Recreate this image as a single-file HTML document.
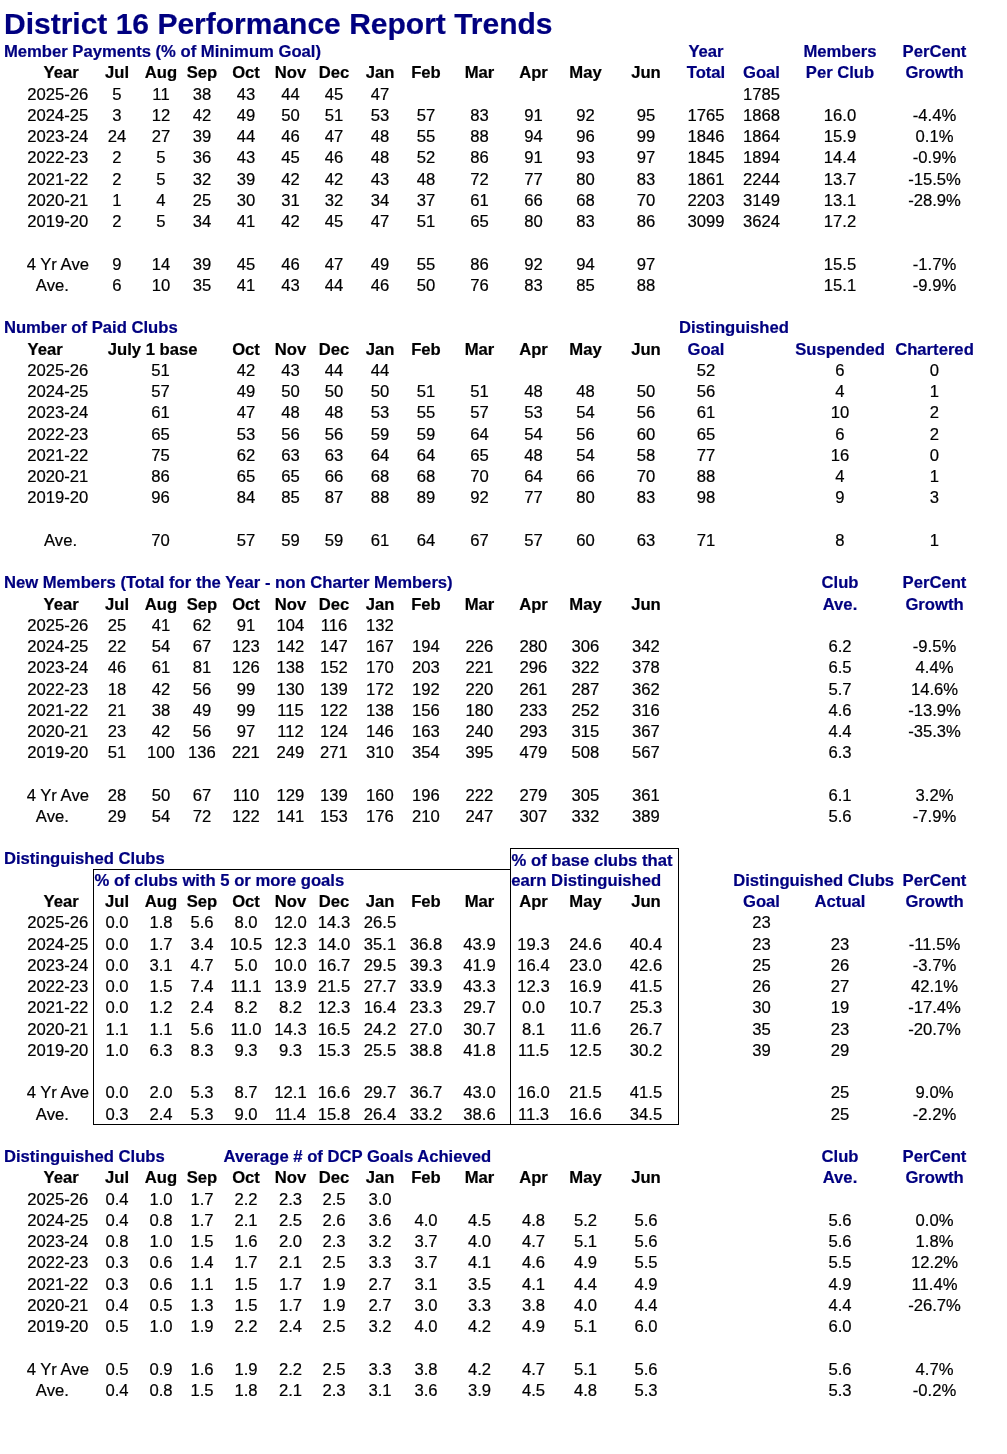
<!DOCTYPE html>
<html><head><meta charset="utf-8"><title>District 16 Performance Report Trends</title>
<style>
html,body{margin:0;padding:0;background:#fff;}
body{will-change:transform;width:1007px;height:1454px;position:relative;overflow:hidden;font-family:"Liberation Sans",sans-serif;font-size:16.65px;color:#000;}
.c,.l{-webkit-text-stroke:0.2px currentColor;position:absolute;white-space:nowrap;line-height:1;}
.c{width:200px;text-align:center;}
.ln{position:absolute;background:#000;}
</style></head><body>
<div class="l" style="font-weight:bold;color:#000080;font-size:30px;left:3.99px;top:9px">District 16 Performance Report Trends</div>
<div class="l" style="font-weight:bold;color:#000080;left:3.89px;top:44px">Member Payments (% of Minimum Goal)</div>
<div class="c" style="font-weight:bold;color:#000080;left:606.00px;top:44px">Year</div>
<div class="c" style="font-weight:bold;color:#000080;left:740.00px;top:44px">Members</div>
<div class="c" style="font-weight:bold;color:#000080;left:834.50px;top:44px">PerCent</div>
<div class="c" style="font-weight:bold;left:-38.90px;top:65px">Year</div>
<div class="c" style="font-weight:bold;left:17.00px;top:65px">Jul</div>
<div class="c" style="font-weight:bold;left:61.00px;top:65px">Aug</div>
<div class="c" style="font-weight:bold;left:102.00px;top:65px">Sep</div>
<div class="c" style="font-weight:bold;left:146.00px;top:65px">Oct</div>
<div class="c" style="font-weight:bold;left:190.50px;top:65px">Nov</div>
<div class="c" style="font-weight:bold;left:234.00px;top:65px">Dec</div>
<div class="c" style="font-weight:bold;left:280.00px;top:65px">Jan</div>
<div class="c" style="font-weight:bold;left:326.00px;top:65px">Feb</div>
<div class="c" style="font-weight:bold;left:379.50px;top:65px">Mar</div>
<div class="c" style="font-weight:bold;left:433.50px;top:65px">Apr</div>
<div class="c" style="font-weight:bold;left:485.50px;top:65px">May</div>
<div class="c" style="font-weight:bold;left:546.00px;top:65px">Jun</div>
<div class="c" style="font-weight:bold;color:#000080;left:606.00px;top:65px">Total</div>
<div class="c" style="font-weight:bold;color:#000080;left:661.50px;top:65px">Goal</div>
<div class="c" style="font-weight:bold;color:#000080;left:740.00px;top:65px">Per Club</div>
<div class="c" style="font-weight:bold;color:#000080;left:834.50px;top:65px">Growth</div>
<div class="c" style="left:-42.20px;top:87px">2025-26</div>
<div class="c" style="left:-42.20px;top:108px">2024-25</div>
<div class="c" style="left:-42.20px;top:129px">2023-24</div>
<div class="c" style="left:-42.20px;top:150px">2022-23</div>
<div class="c" style="left:-42.20px;top:172px">2021-22</div>
<div class="c" style="left:-42.20px;top:193px">2020-21</div>
<div class="c" style="left:-42.20px;top:214px">2019-20</div>
<div class="c" style="left:17.00px;top:87px">5</div>
<div class="c" style="left:61.00px;top:87px">11</div>
<div class="c" style="left:102.00px;top:87px">38</div>
<div class="c" style="left:146.00px;top:87px">43</div>
<div class="c" style="left:190.50px;top:87px">44</div>
<div class="c" style="left:234.00px;top:87px">45</div>
<div class="c" style="left:280.00px;top:87px">47</div>
<div class="c" style="left:661.50px;top:87px">1785</div>
<div class="c" style="left:17.00px;top:108px">3</div>
<div class="c" style="left:61.00px;top:108px">12</div>
<div class="c" style="left:102.00px;top:108px">42</div>
<div class="c" style="left:146.00px;top:108px">49</div>
<div class="c" style="left:190.50px;top:108px">50</div>
<div class="c" style="left:234.00px;top:108px">51</div>
<div class="c" style="left:280.00px;top:108px">53</div>
<div class="c" style="left:326.00px;top:108px">57</div>
<div class="c" style="left:379.50px;top:108px">83</div>
<div class="c" style="left:433.50px;top:108px">91</div>
<div class="c" style="left:485.50px;top:108px">92</div>
<div class="c" style="left:546.00px;top:108px">95</div>
<div class="c" style="left:606.00px;top:108px">1765</div>
<div class="c" style="left:661.50px;top:108px">1868</div>
<div class="c" style="left:740.00px;top:108px">16.0</div>
<div class="c" style="left:834.50px;top:108px">-4.4%</div>
<div class="c" style="left:17.00px;top:129px">24</div>
<div class="c" style="left:61.00px;top:129px">27</div>
<div class="c" style="left:102.00px;top:129px">39</div>
<div class="c" style="left:146.00px;top:129px">44</div>
<div class="c" style="left:190.50px;top:129px">46</div>
<div class="c" style="left:234.00px;top:129px">47</div>
<div class="c" style="left:280.00px;top:129px">48</div>
<div class="c" style="left:326.00px;top:129px">55</div>
<div class="c" style="left:379.50px;top:129px">88</div>
<div class="c" style="left:433.50px;top:129px">94</div>
<div class="c" style="left:485.50px;top:129px">96</div>
<div class="c" style="left:546.00px;top:129px">99</div>
<div class="c" style="left:606.00px;top:129px">1846</div>
<div class="c" style="left:661.50px;top:129px">1864</div>
<div class="c" style="left:740.00px;top:129px">15.9</div>
<div class="c" style="left:834.50px;top:129px">0.1%</div>
<div class="c" style="left:17.00px;top:150px">2</div>
<div class="c" style="left:61.00px;top:150px">5</div>
<div class="c" style="left:102.00px;top:150px">36</div>
<div class="c" style="left:146.00px;top:150px">43</div>
<div class="c" style="left:190.50px;top:150px">45</div>
<div class="c" style="left:234.00px;top:150px">46</div>
<div class="c" style="left:280.00px;top:150px">48</div>
<div class="c" style="left:326.00px;top:150px">52</div>
<div class="c" style="left:379.50px;top:150px">86</div>
<div class="c" style="left:433.50px;top:150px">91</div>
<div class="c" style="left:485.50px;top:150px">93</div>
<div class="c" style="left:546.00px;top:150px">97</div>
<div class="c" style="left:606.00px;top:150px">1845</div>
<div class="c" style="left:661.50px;top:150px">1894</div>
<div class="c" style="left:740.00px;top:150px">14.4</div>
<div class="c" style="left:834.50px;top:150px">-0.9%</div>
<div class="c" style="left:17.00px;top:172px">2</div>
<div class="c" style="left:61.00px;top:172px">5</div>
<div class="c" style="left:102.00px;top:172px">32</div>
<div class="c" style="left:146.00px;top:172px">39</div>
<div class="c" style="left:190.50px;top:172px">42</div>
<div class="c" style="left:234.00px;top:172px">42</div>
<div class="c" style="left:280.00px;top:172px">43</div>
<div class="c" style="left:326.00px;top:172px">48</div>
<div class="c" style="left:379.50px;top:172px">72</div>
<div class="c" style="left:433.50px;top:172px">77</div>
<div class="c" style="left:485.50px;top:172px">80</div>
<div class="c" style="left:546.00px;top:172px">83</div>
<div class="c" style="left:606.00px;top:172px">1861</div>
<div class="c" style="left:661.50px;top:172px">2244</div>
<div class="c" style="left:740.00px;top:172px">13.7</div>
<div class="c" style="left:834.50px;top:172px">-15.5%</div>
<div class="c" style="left:17.00px;top:193px">1</div>
<div class="c" style="left:61.00px;top:193px">4</div>
<div class="c" style="left:102.00px;top:193px">25</div>
<div class="c" style="left:146.00px;top:193px">30</div>
<div class="c" style="left:190.50px;top:193px">31</div>
<div class="c" style="left:234.00px;top:193px">32</div>
<div class="c" style="left:280.00px;top:193px">34</div>
<div class="c" style="left:326.00px;top:193px">37</div>
<div class="c" style="left:379.50px;top:193px">61</div>
<div class="c" style="left:433.50px;top:193px">66</div>
<div class="c" style="left:485.50px;top:193px">68</div>
<div class="c" style="left:546.00px;top:193px">70</div>
<div class="c" style="left:606.00px;top:193px">2203</div>
<div class="c" style="left:661.50px;top:193px">3149</div>
<div class="c" style="left:740.00px;top:193px">13.1</div>
<div class="c" style="left:834.50px;top:193px">-28.9%</div>
<div class="c" style="left:17.00px;top:214px">2</div>
<div class="c" style="left:61.00px;top:214px">5</div>
<div class="c" style="left:102.00px;top:214px">34</div>
<div class="c" style="left:146.00px;top:214px">41</div>
<div class="c" style="left:190.50px;top:214px">42</div>
<div class="c" style="left:234.00px;top:214px">45</div>
<div class="c" style="left:280.00px;top:214px">47</div>
<div class="c" style="left:326.00px;top:214px">51</div>
<div class="c" style="left:379.50px;top:214px">65</div>
<div class="c" style="left:433.50px;top:214px">80</div>
<div class="c" style="left:485.50px;top:214px">83</div>
<div class="c" style="left:546.00px;top:214px">86</div>
<div class="c" style="left:606.00px;top:214px">3099</div>
<div class="c" style="left:661.50px;top:214px">3624</div>
<div class="c" style="left:740.00px;top:214px">17.2</div>
<div class="c" style="left:-42.20px;top:257px">4 Yr Ave</div>
<div class="c" style="left:17.00px;top:257px">9</div>
<div class="c" style="left:61.00px;top:257px">14</div>
<div class="c" style="left:102.00px;top:257px">39</div>
<div class="c" style="left:146.00px;top:257px">45</div>
<div class="c" style="left:190.50px;top:257px">46</div>
<div class="c" style="left:234.00px;top:257px">47</div>
<div class="c" style="left:280.00px;top:257px">49</div>
<div class="c" style="left:326.00px;top:257px">55</div>
<div class="c" style="left:379.50px;top:257px">86</div>
<div class="c" style="left:433.50px;top:257px">92</div>
<div class="c" style="left:485.50px;top:257px">94</div>
<div class="c" style="left:546.00px;top:257px">97</div>
<div class="c" style="left:740.00px;top:257px">15.5</div>
<div class="c" style="left:834.50px;top:257px">-1.7%</div>
<div class="c" style="left:17.00px;top:278px">6</div>
<div class="c" style="left:61.00px;top:278px">10</div>
<div class="c" style="left:102.00px;top:278px">35</div>
<div class="c" style="left:146.00px;top:278px">41</div>
<div class="c" style="left:190.50px;top:278px">43</div>
<div class="c" style="left:234.00px;top:278px">44</div>
<div class="c" style="left:280.00px;top:278px">46</div>
<div class="c" style="left:326.00px;top:278px">50</div>
<div class="c" style="left:379.50px;top:278px">76</div>
<div class="c" style="left:433.50px;top:278px">83</div>
<div class="c" style="left:485.50px;top:278px">85</div>
<div class="c" style="left:546.00px;top:278px">88</div>
<div class="c" style="left:740.00px;top:278px">15.1</div>
<div class="c" style="left:834.50px;top:278px">-9.9%</div>
<div class="l" style="left:35.87px;top:278px">Ave.</div>
<div class="l" style="font-weight:bold;color:#000080;left:3.89px;top:320px">Number of Paid Clubs</div>
<div class="l" style="font-weight:bold;color:#000080;left:678.89px;top:320px">Distinguished</div>
<div class="l" style="font-weight:bold;left:27.52px;top:342px">Year</div>
<div class="c" style="font-weight:bold;left:52.70px;top:342px">July 1 base</div>
<div class="c" style="font-weight:bold;left:146.00px;top:342px">Oct</div>
<div class="c" style="font-weight:bold;left:190.50px;top:342px">Nov</div>
<div class="c" style="font-weight:bold;left:234.00px;top:342px">Dec</div>
<div class="c" style="font-weight:bold;left:280.00px;top:342px">Jan</div>
<div class="c" style="font-weight:bold;left:326.00px;top:342px">Feb</div>
<div class="c" style="font-weight:bold;left:379.50px;top:342px">Mar</div>
<div class="c" style="font-weight:bold;left:433.50px;top:342px">Apr</div>
<div class="c" style="font-weight:bold;left:485.50px;top:342px">May</div>
<div class="c" style="font-weight:bold;left:546.00px;top:342px">Jun</div>
<div class="c" style="font-weight:bold;color:#000080;left:606.00px;top:342px">Goal</div>
<div class="c" style="font-weight:bold;color:#000080;left:740.00px;top:342px">Suspended</div>
<div class="c" style="font-weight:bold;color:#000080;left:834.50px;top:342px">Chartered</div>
<div class="c" style="left:-42.20px;top:363px">2025-26</div>
<div class="c" style="left:-42.20px;top:384px">2024-25</div>
<div class="c" style="left:-42.20px;top:405px">2023-24</div>
<div class="c" style="left:-42.20px;top:427px">2022-23</div>
<div class="c" style="left:-42.20px;top:448px">2021-22</div>
<div class="c" style="left:-42.20px;top:469px">2020-21</div>
<div class="c" style="left:-42.20px;top:490px">2019-20</div>
<div class="c" style="left:60.50px;top:363px">51</div>
<div class="c" style="left:146.00px;top:363px">42</div>
<div class="c" style="left:190.50px;top:363px">43</div>
<div class="c" style="left:234.00px;top:363px">44</div>
<div class="c" style="left:280.00px;top:363px">44</div>
<div class="c" style="left:606.00px;top:363px">52</div>
<div class="c" style="left:740.00px;top:363px">6</div>
<div class="c" style="left:834.50px;top:363px">0</div>
<div class="c" style="left:60.50px;top:384px">57</div>
<div class="c" style="left:146.00px;top:384px">49</div>
<div class="c" style="left:190.50px;top:384px">50</div>
<div class="c" style="left:234.00px;top:384px">50</div>
<div class="c" style="left:280.00px;top:384px">50</div>
<div class="c" style="left:326.00px;top:384px">51</div>
<div class="c" style="left:379.50px;top:384px">51</div>
<div class="c" style="left:433.50px;top:384px">48</div>
<div class="c" style="left:485.50px;top:384px">48</div>
<div class="c" style="left:546.00px;top:384px">50</div>
<div class="c" style="left:606.00px;top:384px">56</div>
<div class="c" style="left:740.00px;top:384px">4</div>
<div class="c" style="left:834.50px;top:384px">1</div>
<div class="c" style="left:60.50px;top:405px">61</div>
<div class="c" style="left:146.00px;top:405px">47</div>
<div class="c" style="left:190.50px;top:405px">48</div>
<div class="c" style="left:234.00px;top:405px">48</div>
<div class="c" style="left:280.00px;top:405px">53</div>
<div class="c" style="left:326.00px;top:405px">55</div>
<div class="c" style="left:379.50px;top:405px">57</div>
<div class="c" style="left:433.50px;top:405px">53</div>
<div class="c" style="left:485.50px;top:405px">54</div>
<div class="c" style="left:546.00px;top:405px">56</div>
<div class="c" style="left:606.00px;top:405px">61</div>
<div class="c" style="left:740.00px;top:405px">10</div>
<div class="c" style="left:834.50px;top:405px">2</div>
<div class="c" style="left:60.50px;top:427px">65</div>
<div class="c" style="left:146.00px;top:427px">53</div>
<div class="c" style="left:190.50px;top:427px">56</div>
<div class="c" style="left:234.00px;top:427px">56</div>
<div class="c" style="left:280.00px;top:427px">59</div>
<div class="c" style="left:326.00px;top:427px">59</div>
<div class="c" style="left:379.50px;top:427px">64</div>
<div class="c" style="left:433.50px;top:427px">54</div>
<div class="c" style="left:485.50px;top:427px">56</div>
<div class="c" style="left:546.00px;top:427px">60</div>
<div class="c" style="left:606.00px;top:427px">65</div>
<div class="c" style="left:740.00px;top:427px">6</div>
<div class="c" style="left:834.50px;top:427px">2</div>
<div class="c" style="left:60.50px;top:448px">75</div>
<div class="c" style="left:146.00px;top:448px">62</div>
<div class="c" style="left:190.50px;top:448px">63</div>
<div class="c" style="left:234.00px;top:448px">63</div>
<div class="c" style="left:280.00px;top:448px">64</div>
<div class="c" style="left:326.00px;top:448px">64</div>
<div class="c" style="left:379.50px;top:448px">65</div>
<div class="c" style="left:433.50px;top:448px">48</div>
<div class="c" style="left:485.50px;top:448px">54</div>
<div class="c" style="left:546.00px;top:448px">58</div>
<div class="c" style="left:606.00px;top:448px">77</div>
<div class="c" style="left:740.00px;top:448px">16</div>
<div class="c" style="left:834.50px;top:448px">0</div>
<div class="c" style="left:60.50px;top:469px">86</div>
<div class="c" style="left:146.00px;top:469px">65</div>
<div class="c" style="left:190.50px;top:469px">65</div>
<div class="c" style="left:234.00px;top:469px">66</div>
<div class="c" style="left:280.00px;top:469px">68</div>
<div class="c" style="left:326.00px;top:469px">68</div>
<div class="c" style="left:379.50px;top:469px">70</div>
<div class="c" style="left:433.50px;top:469px">64</div>
<div class="c" style="left:485.50px;top:469px">66</div>
<div class="c" style="left:546.00px;top:469px">70</div>
<div class="c" style="left:606.00px;top:469px">88</div>
<div class="c" style="left:740.00px;top:469px">4</div>
<div class="c" style="left:834.50px;top:469px">1</div>
<div class="c" style="left:60.50px;top:490px">96</div>
<div class="c" style="left:146.00px;top:490px">84</div>
<div class="c" style="left:190.50px;top:490px">85</div>
<div class="c" style="left:234.00px;top:490px">87</div>
<div class="c" style="left:280.00px;top:490px">88</div>
<div class="c" style="left:326.00px;top:490px">89</div>
<div class="c" style="left:379.50px;top:490px">92</div>
<div class="c" style="left:433.50px;top:490px">77</div>
<div class="c" style="left:485.50px;top:490px">80</div>
<div class="c" style="left:546.00px;top:490px">83</div>
<div class="c" style="left:606.00px;top:490px">98</div>
<div class="c" style="left:740.00px;top:490px">9</div>
<div class="c" style="left:834.50px;top:490px">3</div>
<div class="l" style="left:44.07px;top:533px">Ave.</div>
<div class="c" style="left:60.50px;top:533px">70</div>
<div class="c" style="left:146.00px;top:533px">57</div>
<div class="c" style="left:190.50px;top:533px">59</div>
<div class="c" style="left:234.00px;top:533px">59</div>
<div class="c" style="left:280.00px;top:533px">61</div>
<div class="c" style="left:326.00px;top:533px">64</div>
<div class="c" style="left:379.50px;top:533px">67</div>
<div class="c" style="left:433.50px;top:533px">57</div>
<div class="c" style="left:485.50px;top:533px">60</div>
<div class="c" style="left:546.00px;top:533px">63</div>
<div class="c" style="left:606.00px;top:533px">71</div>
<div class="c" style="left:740.00px;top:533px">8</div>
<div class="c" style="left:834.50px;top:533px">1</div>
<div class="l" style="font-weight:bold;color:#000080;left:3.89px;top:575px">New Members (Total for the Year - non Charter Members)</div>
<div class="c" style="font-weight:bold;color:#000080;left:740.00px;top:575px">Club</div>
<div class="c" style="font-weight:bold;color:#000080;left:834.50px;top:575px">PerCent</div>
<div class="c" style="font-weight:bold;left:-38.90px;top:597px">Year</div>
<div class="c" style="font-weight:bold;left:17.00px;top:597px">Jul</div>
<div class="c" style="font-weight:bold;left:61.00px;top:597px">Aug</div>
<div class="c" style="font-weight:bold;left:102.00px;top:597px">Sep</div>
<div class="c" style="font-weight:bold;left:146.00px;top:597px">Oct</div>
<div class="c" style="font-weight:bold;left:190.50px;top:597px">Nov</div>
<div class="c" style="font-weight:bold;left:234.00px;top:597px">Dec</div>
<div class="c" style="font-weight:bold;left:280.00px;top:597px">Jan</div>
<div class="c" style="font-weight:bold;left:326.00px;top:597px">Feb</div>
<div class="c" style="font-weight:bold;left:379.50px;top:597px">Mar</div>
<div class="c" style="font-weight:bold;left:433.50px;top:597px">Apr</div>
<div class="c" style="font-weight:bold;left:485.50px;top:597px">May</div>
<div class="c" style="font-weight:bold;left:546.00px;top:597px">Jun</div>
<div class="c" style="font-weight:bold;color:#000080;left:740.00px;top:597px">Ave.</div>
<div class="c" style="font-weight:bold;color:#000080;left:834.50px;top:597px">Growth</div>
<div class="c" style="left:-42.20px;top:618px">2025-26</div>
<div class="c" style="left:-42.20px;top:639px">2024-25</div>
<div class="c" style="left:-42.20px;top:660px">2023-24</div>
<div class="c" style="left:-42.20px;top:682px">2022-23</div>
<div class="c" style="left:-42.20px;top:703px">2021-22</div>
<div class="c" style="left:-42.20px;top:724px">2020-21</div>
<div class="c" style="left:-42.20px;top:745px">2019-20</div>
<div class="c" style="left:17.00px;top:618px">25</div>
<div class="c" style="left:61.00px;top:618px">41</div>
<div class="c" style="left:102.00px;top:618px">62</div>
<div class="c" style="left:146.00px;top:618px">91</div>
<div class="c" style="left:190.50px;top:618px">104</div>
<div class="c" style="left:234.00px;top:618px">116</div>
<div class="c" style="left:280.00px;top:618px">132</div>
<div class="c" style="left:17.00px;top:639px">22</div>
<div class="c" style="left:61.00px;top:639px">54</div>
<div class="c" style="left:102.00px;top:639px">67</div>
<div class="c" style="left:146.00px;top:639px">123</div>
<div class="c" style="left:190.50px;top:639px">142</div>
<div class="c" style="left:234.00px;top:639px">147</div>
<div class="c" style="left:280.00px;top:639px">167</div>
<div class="c" style="left:326.00px;top:639px">194</div>
<div class="c" style="left:379.50px;top:639px">226</div>
<div class="c" style="left:433.50px;top:639px">280</div>
<div class="c" style="left:485.50px;top:639px">306</div>
<div class="c" style="left:546.00px;top:639px">342</div>
<div class="c" style="left:740.00px;top:639px">6.2</div>
<div class="c" style="left:834.50px;top:639px">-9.5%</div>
<div class="c" style="left:17.00px;top:660px">46</div>
<div class="c" style="left:61.00px;top:660px">61</div>
<div class="c" style="left:102.00px;top:660px">81</div>
<div class="c" style="left:146.00px;top:660px">126</div>
<div class="c" style="left:190.50px;top:660px">138</div>
<div class="c" style="left:234.00px;top:660px">152</div>
<div class="c" style="left:280.00px;top:660px">170</div>
<div class="c" style="left:326.00px;top:660px">203</div>
<div class="c" style="left:379.50px;top:660px">221</div>
<div class="c" style="left:433.50px;top:660px">296</div>
<div class="c" style="left:485.50px;top:660px">322</div>
<div class="c" style="left:546.00px;top:660px">378</div>
<div class="c" style="left:740.00px;top:660px">6.5</div>
<div class="c" style="left:834.50px;top:660px">4.4%</div>
<div class="c" style="left:17.00px;top:682px">18</div>
<div class="c" style="left:61.00px;top:682px">42</div>
<div class="c" style="left:102.00px;top:682px">56</div>
<div class="c" style="left:146.00px;top:682px">99</div>
<div class="c" style="left:190.50px;top:682px">130</div>
<div class="c" style="left:234.00px;top:682px">139</div>
<div class="c" style="left:280.00px;top:682px">172</div>
<div class="c" style="left:326.00px;top:682px">192</div>
<div class="c" style="left:379.50px;top:682px">220</div>
<div class="c" style="left:433.50px;top:682px">261</div>
<div class="c" style="left:485.50px;top:682px">287</div>
<div class="c" style="left:546.00px;top:682px">362</div>
<div class="c" style="left:740.00px;top:682px">5.7</div>
<div class="c" style="left:834.50px;top:682px">14.6%</div>
<div class="c" style="left:17.00px;top:703px">21</div>
<div class="c" style="left:61.00px;top:703px">38</div>
<div class="c" style="left:102.00px;top:703px">49</div>
<div class="c" style="left:146.00px;top:703px">99</div>
<div class="c" style="left:190.50px;top:703px">115</div>
<div class="c" style="left:234.00px;top:703px">122</div>
<div class="c" style="left:280.00px;top:703px">138</div>
<div class="c" style="left:326.00px;top:703px">156</div>
<div class="c" style="left:379.50px;top:703px">180</div>
<div class="c" style="left:433.50px;top:703px">233</div>
<div class="c" style="left:485.50px;top:703px">252</div>
<div class="c" style="left:546.00px;top:703px">316</div>
<div class="c" style="left:740.00px;top:703px">4.6</div>
<div class="c" style="left:834.50px;top:703px">-13.9%</div>
<div class="c" style="left:17.00px;top:724px">23</div>
<div class="c" style="left:61.00px;top:724px">42</div>
<div class="c" style="left:102.00px;top:724px">56</div>
<div class="c" style="left:146.00px;top:724px">97</div>
<div class="c" style="left:190.50px;top:724px">112</div>
<div class="c" style="left:234.00px;top:724px">124</div>
<div class="c" style="left:280.00px;top:724px">146</div>
<div class="c" style="left:326.00px;top:724px">163</div>
<div class="c" style="left:379.50px;top:724px">240</div>
<div class="c" style="left:433.50px;top:724px">293</div>
<div class="c" style="left:485.50px;top:724px">315</div>
<div class="c" style="left:546.00px;top:724px">367</div>
<div class="c" style="left:740.00px;top:724px">4.4</div>
<div class="c" style="left:834.50px;top:724px">-35.3%</div>
<div class="c" style="left:17.00px;top:745px">51</div>
<div class="c" style="left:61.00px;top:745px">100</div>
<div class="c" style="left:102.00px;top:745px">136</div>
<div class="c" style="left:146.00px;top:745px">221</div>
<div class="c" style="left:190.50px;top:745px">249</div>
<div class="c" style="left:234.00px;top:745px">271</div>
<div class="c" style="left:280.00px;top:745px">310</div>
<div class="c" style="left:326.00px;top:745px">354</div>
<div class="c" style="left:379.50px;top:745px">395</div>
<div class="c" style="left:433.50px;top:745px">479</div>
<div class="c" style="left:485.50px;top:745px">508</div>
<div class="c" style="left:546.00px;top:745px">567</div>
<div class="c" style="left:740.00px;top:745px">6.3</div>
<div class="c" style="left:-42.20px;top:788px">4 Yr Ave</div>
<div class="l" style="left:35.87px;top:809px">Ave.</div>
<div class="c" style="left:17.00px;top:788px">28</div>
<div class="c" style="left:61.00px;top:788px">50</div>
<div class="c" style="left:102.00px;top:788px">67</div>
<div class="c" style="left:146.00px;top:788px">110</div>
<div class="c" style="left:190.50px;top:788px">129</div>
<div class="c" style="left:234.00px;top:788px">139</div>
<div class="c" style="left:280.00px;top:788px">160</div>
<div class="c" style="left:326.00px;top:788px">196</div>
<div class="c" style="left:379.50px;top:788px">222</div>
<div class="c" style="left:433.50px;top:788px">279</div>
<div class="c" style="left:485.50px;top:788px">305</div>
<div class="c" style="left:546.00px;top:788px">361</div>
<div class="c" style="left:740.00px;top:788px">6.1</div>
<div class="c" style="left:834.50px;top:788px">3.2%</div>
<div class="c" style="left:17.00px;top:809px">29</div>
<div class="c" style="left:61.00px;top:809px">54</div>
<div class="c" style="left:102.00px;top:809px">72</div>
<div class="c" style="left:146.00px;top:809px">122</div>
<div class="c" style="left:190.50px;top:809px">141</div>
<div class="c" style="left:234.00px;top:809px">153</div>
<div class="c" style="left:280.00px;top:809px">176</div>
<div class="c" style="left:326.00px;top:809px">210</div>
<div class="c" style="left:379.50px;top:809px">247</div>
<div class="c" style="left:433.50px;top:809px">307</div>
<div class="c" style="left:485.50px;top:809px">332</div>
<div class="c" style="left:546.00px;top:809px">389</div>
<div class="c" style="left:740.00px;top:809px">5.6</div>
<div class="c" style="left:834.50px;top:809px">-7.9%</div>
<div class="l" style="font-weight:bold;color:#000080;left:3.89px;top:851px">Distinguished Clubs</div>
<div class="l" style="font-weight:bold;color:#000080;left:511.59px;top:853px">% of base clubs that</div>
<div class="l" style="font-weight:bold;color:#000080;left:94.59px;top:873px">% of clubs with 5 or more goals</div>
<div class="l" style="font-weight:bold;color:#000080;left:511.35px;top:873px">earn Distinguished</div>
<div class="l" style="font-weight:bold;color:#000080;left:733.19px;top:873px">Distinguished Clubs</div>
<div class="c" style="font-weight:bold;color:#000080;left:834.50px;top:873px">PerCent</div>
<div class="c" style="font-weight:bold;left:-38.90px;top:894px">Year</div>
<div class="c" style="font-weight:bold;left:17.00px;top:894px">Jul</div>
<div class="c" style="font-weight:bold;left:61.00px;top:894px">Aug</div>
<div class="c" style="font-weight:bold;left:102.00px;top:894px">Sep</div>
<div class="c" style="font-weight:bold;left:146.00px;top:894px">Oct</div>
<div class="c" style="font-weight:bold;left:190.50px;top:894px">Nov</div>
<div class="c" style="font-weight:bold;left:234.00px;top:894px">Dec</div>
<div class="c" style="font-weight:bold;left:280.00px;top:894px">Jan</div>
<div class="c" style="font-weight:bold;left:326.00px;top:894px">Feb</div>
<div class="c" style="font-weight:bold;left:379.50px;top:894px">Mar</div>
<div class="c" style="font-weight:bold;left:433.50px;top:894px">Apr</div>
<div class="c" style="font-weight:bold;left:485.50px;top:894px">May</div>
<div class="c" style="font-weight:bold;left:546.00px;top:894px">Jun</div>
<div class="c" style="font-weight:bold;color:#000080;left:661.50px;top:894px">Goal</div>
<div class="c" style="font-weight:bold;color:#000080;left:740.00px;top:894px">Actual</div>
<div class="c" style="font-weight:bold;color:#000080;left:834.50px;top:894px">Growth</div>
<div class="c" style="left:-42.20px;top:915px">2025-26</div>
<div class="c" style="left:-42.20px;top:937px">2024-25</div>
<div class="c" style="left:-42.20px;top:958px">2023-24</div>
<div class="c" style="left:-42.20px;top:979px">2022-23</div>
<div class="c" style="left:-42.20px;top:1000px">2021-22</div>
<div class="c" style="left:-42.20px;top:1022px">2020-21</div>
<div class="c" style="left:-42.20px;top:1043px">2019-20</div>
<div class="c" style="left:17.00px;top:915px">0.0</div>
<div class="c" style="left:61.00px;top:915px">1.8</div>
<div class="c" style="left:102.00px;top:915px">5.6</div>
<div class="c" style="left:146.00px;top:915px">8.0</div>
<div class="c" style="left:190.50px;top:915px">12.0</div>
<div class="c" style="left:234.00px;top:915px">14.3</div>
<div class="c" style="left:280.00px;top:915px">26.5</div>
<div class="c" style="left:661.50px;top:915px">23</div>
<div class="c" style="left:17.00px;top:937px">0.0</div>
<div class="c" style="left:61.00px;top:937px">1.7</div>
<div class="c" style="left:102.00px;top:937px">3.4</div>
<div class="c" style="left:146.00px;top:937px">10.5</div>
<div class="c" style="left:190.50px;top:937px">12.3</div>
<div class="c" style="left:234.00px;top:937px">14.0</div>
<div class="c" style="left:280.00px;top:937px">35.1</div>
<div class="c" style="left:326.00px;top:937px">36.8</div>
<div class="c" style="left:379.50px;top:937px">43.9</div>
<div class="c" style="left:433.50px;top:937px">19.3</div>
<div class="c" style="left:485.50px;top:937px">24.6</div>
<div class="c" style="left:546.00px;top:937px">40.4</div>
<div class="c" style="left:661.50px;top:937px">23</div>
<div class="c" style="left:740.00px;top:937px">23</div>
<div class="c" style="left:834.50px;top:937px">-11.5%</div>
<div class="c" style="left:17.00px;top:958px">0.0</div>
<div class="c" style="left:61.00px;top:958px">3.1</div>
<div class="c" style="left:102.00px;top:958px">4.7</div>
<div class="c" style="left:146.00px;top:958px">5.0</div>
<div class="c" style="left:190.50px;top:958px">10.0</div>
<div class="c" style="left:234.00px;top:958px">16.7</div>
<div class="c" style="left:280.00px;top:958px">29.5</div>
<div class="c" style="left:326.00px;top:958px">39.3</div>
<div class="c" style="left:379.50px;top:958px">41.9</div>
<div class="c" style="left:433.50px;top:958px">16.4</div>
<div class="c" style="left:485.50px;top:958px">23.0</div>
<div class="c" style="left:546.00px;top:958px">42.6</div>
<div class="c" style="left:661.50px;top:958px">25</div>
<div class="c" style="left:740.00px;top:958px">26</div>
<div class="c" style="left:834.50px;top:958px">-3.7%</div>
<div class="c" style="left:17.00px;top:979px">0.0</div>
<div class="c" style="left:61.00px;top:979px">1.5</div>
<div class="c" style="left:102.00px;top:979px">7.4</div>
<div class="c" style="left:146.00px;top:979px">11.1</div>
<div class="c" style="left:190.50px;top:979px">13.9</div>
<div class="c" style="left:234.00px;top:979px">21.5</div>
<div class="c" style="left:280.00px;top:979px">27.7</div>
<div class="c" style="left:326.00px;top:979px">33.9</div>
<div class="c" style="left:379.50px;top:979px">43.3</div>
<div class="c" style="left:433.50px;top:979px">12.3</div>
<div class="c" style="left:485.50px;top:979px">16.9</div>
<div class="c" style="left:546.00px;top:979px">41.5</div>
<div class="c" style="left:661.50px;top:979px">26</div>
<div class="c" style="left:740.00px;top:979px">27</div>
<div class="c" style="left:834.50px;top:979px">42.1%</div>
<div class="c" style="left:17.00px;top:1000px">0.0</div>
<div class="c" style="left:61.00px;top:1000px">1.2</div>
<div class="c" style="left:102.00px;top:1000px">2.4</div>
<div class="c" style="left:146.00px;top:1000px">8.2</div>
<div class="c" style="left:190.50px;top:1000px">8.2</div>
<div class="c" style="left:234.00px;top:1000px">12.3</div>
<div class="c" style="left:280.00px;top:1000px">16.4</div>
<div class="c" style="left:326.00px;top:1000px">23.3</div>
<div class="c" style="left:379.50px;top:1000px">29.7</div>
<div class="c" style="left:433.50px;top:1000px">0.0</div>
<div class="c" style="left:485.50px;top:1000px">10.7</div>
<div class="c" style="left:546.00px;top:1000px">25.3</div>
<div class="c" style="left:661.50px;top:1000px">30</div>
<div class="c" style="left:740.00px;top:1000px">19</div>
<div class="c" style="left:834.50px;top:1000px">-17.4%</div>
<div class="c" style="left:17.00px;top:1022px">1.1</div>
<div class="c" style="left:61.00px;top:1022px">1.1</div>
<div class="c" style="left:102.00px;top:1022px">5.6</div>
<div class="c" style="left:146.00px;top:1022px">11.0</div>
<div class="c" style="left:190.50px;top:1022px">14.3</div>
<div class="c" style="left:234.00px;top:1022px">16.5</div>
<div class="c" style="left:280.00px;top:1022px">24.2</div>
<div class="c" style="left:326.00px;top:1022px">27.0</div>
<div class="c" style="left:379.50px;top:1022px">30.7</div>
<div class="c" style="left:433.50px;top:1022px">8.1</div>
<div class="c" style="left:485.50px;top:1022px">11.6</div>
<div class="c" style="left:546.00px;top:1022px">26.7</div>
<div class="c" style="left:661.50px;top:1022px">35</div>
<div class="c" style="left:740.00px;top:1022px">23</div>
<div class="c" style="left:834.50px;top:1022px">-20.7%</div>
<div class="c" style="left:17.00px;top:1043px">1.0</div>
<div class="c" style="left:61.00px;top:1043px">6.3</div>
<div class="c" style="left:102.00px;top:1043px">8.3</div>
<div class="c" style="left:146.00px;top:1043px">9.3</div>
<div class="c" style="left:190.50px;top:1043px">9.3</div>
<div class="c" style="left:234.00px;top:1043px">15.3</div>
<div class="c" style="left:280.00px;top:1043px">25.5</div>
<div class="c" style="left:326.00px;top:1043px">38.8</div>
<div class="c" style="left:379.50px;top:1043px">41.8</div>
<div class="c" style="left:433.50px;top:1043px">11.5</div>
<div class="c" style="left:485.50px;top:1043px">12.5</div>
<div class="c" style="left:546.00px;top:1043px">30.2</div>
<div class="c" style="left:661.50px;top:1043px">39</div>
<div class="c" style="left:740.00px;top:1043px">29</div>
<div class="c" style="left:-42.20px;top:1085px">4 Yr Ave</div>
<div class="l" style="left:35.87px;top:1107px">Ave.</div>
<div class="c" style="left:17.00px;top:1085px">0.0</div>
<div class="c" style="left:61.00px;top:1085px">2.0</div>
<div class="c" style="left:102.00px;top:1085px">5.3</div>
<div class="c" style="left:146.00px;top:1085px">8.7</div>
<div class="c" style="left:190.50px;top:1085px">12.1</div>
<div class="c" style="left:234.00px;top:1085px">16.6</div>
<div class="c" style="left:280.00px;top:1085px">29.7</div>
<div class="c" style="left:326.00px;top:1085px">36.7</div>
<div class="c" style="left:379.50px;top:1085px">43.0</div>
<div class="c" style="left:433.50px;top:1085px">16.0</div>
<div class="c" style="left:485.50px;top:1085px">21.5</div>
<div class="c" style="left:546.00px;top:1085px">41.5</div>
<div class="c" style="left:740.00px;top:1085px">25</div>
<div class="c" style="left:834.50px;top:1085px">9.0%</div>
<div class="c" style="left:17.00px;top:1107px">0.3</div>
<div class="c" style="left:61.00px;top:1107px">2.4</div>
<div class="c" style="left:102.00px;top:1107px">5.3</div>
<div class="c" style="left:146.00px;top:1107px">9.0</div>
<div class="c" style="left:190.50px;top:1107px">11.4</div>
<div class="c" style="left:234.00px;top:1107px">15.8</div>
<div class="c" style="left:280.00px;top:1107px">26.4</div>
<div class="c" style="left:326.00px;top:1107px">33.2</div>
<div class="c" style="left:379.50px;top:1107px">38.6</div>
<div class="c" style="left:433.50px;top:1107px">11.3</div>
<div class="c" style="left:485.50px;top:1107px">16.6</div>
<div class="c" style="left:546.00px;top:1107px">34.5</div>
<div class="c" style="left:740.00px;top:1107px">25</div>
<div class="c" style="left:834.50px;top:1107px">-2.2%</div>
<div class="l" style="font-weight:bold;color:#000080;left:3.89px;top:1149px">Distinguished Clubs</div>
<div class="l" style="font-weight:bold;color:#000080;left:223.59px;top:1149px">Average # of DCP Goals Achieved</div>
<div class="c" style="font-weight:bold;color:#000080;left:740.00px;top:1149px">Club</div>
<div class="c" style="font-weight:bold;color:#000080;left:834.50px;top:1149px">PerCent</div>
<div class="c" style="font-weight:bold;left:-38.90px;top:1170px">Year</div>
<div class="c" style="font-weight:bold;left:17.00px;top:1170px">Jul</div>
<div class="c" style="font-weight:bold;left:61.00px;top:1170px">Aug</div>
<div class="c" style="font-weight:bold;left:102.00px;top:1170px">Sep</div>
<div class="c" style="font-weight:bold;left:146.00px;top:1170px">Oct</div>
<div class="c" style="font-weight:bold;left:190.50px;top:1170px">Nov</div>
<div class="c" style="font-weight:bold;left:234.00px;top:1170px">Dec</div>
<div class="c" style="font-weight:bold;left:280.00px;top:1170px">Jan</div>
<div class="c" style="font-weight:bold;left:326.00px;top:1170px">Feb</div>
<div class="c" style="font-weight:bold;left:379.50px;top:1170px">Mar</div>
<div class="c" style="font-weight:bold;left:433.50px;top:1170px">Apr</div>
<div class="c" style="font-weight:bold;left:485.50px;top:1170px">May</div>
<div class="c" style="font-weight:bold;left:546.00px;top:1170px">Jun</div>
<div class="c" style="font-weight:bold;color:#000080;left:740.00px;top:1170px">Ave.</div>
<div class="c" style="font-weight:bold;color:#000080;left:834.50px;top:1170px">Growth</div>
<div class="c" style="left:-42.20px;top:1192px">2025-26</div>
<div class="c" style="left:-42.20px;top:1213px">2024-25</div>
<div class="c" style="left:-42.20px;top:1234px">2023-24</div>
<div class="c" style="left:-42.20px;top:1255px">2022-23</div>
<div class="c" style="left:-42.20px;top:1277px">2021-22</div>
<div class="c" style="left:-42.20px;top:1298px">2020-21</div>
<div class="c" style="left:-42.20px;top:1319px">2019-20</div>
<div class="c" style="left:17.00px;top:1192px">0.4</div>
<div class="c" style="left:61.00px;top:1192px">1.0</div>
<div class="c" style="left:102.00px;top:1192px">1.7</div>
<div class="c" style="left:146.00px;top:1192px">2.2</div>
<div class="c" style="left:190.50px;top:1192px">2.3</div>
<div class="c" style="left:234.00px;top:1192px">2.5</div>
<div class="c" style="left:280.00px;top:1192px">3.0</div>
<div class="c" style="left:17.00px;top:1213px">0.4</div>
<div class="c" style="left:61.00px;top:1213px">0.8</div>
<div class="c" style="left:102.00px;top:1213px">1.7</div>
<div class="c" style="left:146.00px;top:1213px">2.1</div>
<div class="c" style="left:190.50px;top:1213px">2.5</div>
<div class="c" style="left:234.00px;top:1213px">2.6</div>
<div class="c" style="left:280.00px;top:1213px">3.6</div>
<div class="c" style="left:326.00px;top:1213px">4.0</div>
<div class="c" style="left:379.50px;top:1213px">4.5</div>
<div class="c" style="left:433.50px;top:1213px">4.8</div>
<div class="c" style="left:485.50px;top:1213px">5.2</div>
<div class="c" style="left:546.00px;top:1213px">5.6</div>
<div class="c" style="left:740.00px;top:1213px">5.6</div>
<div class="c" style="left:834.50px;top:1213px">0.0%</div>
<div class="c" style="left:17.00px;top:1234px">0.8</div>
<div class="c" style="left:61.00px;top:1234px">1.0</div>
<div class="c" style="left:102.00px;top:1234px">1.5</div>
<div class="c" style="left:146.00px;top:1234px">1.6</div>
<div class="c" style="left:190.50px;top:1234px">2.0</div>
<div class="c" style="left:234.00px;top:1234px">2.3</div>
<div class="c" style="left:280.00px;top:1234px">3.2</div>
<div class="c" style="left:326.00px;top:1234px">3.7</div>
<div class="c" style="left:379.50px;top:1234px">4.0</div>
<div class="c" style="left:433.50px;top:1234px">4.7</div>
<div class="c" style="left:485.50px;top:1234px">5.1</div>
<div class="c" style="left:546.00px;top:1234px">5.6</div>
<div class="c" style="left:740.00px;top:1234px">5.6</div>
<div class="c" style="left:834.50px;top:1234px">1.8%</div>
<div class="c" style="left:17.00px;top:1255px">0.3</div>
<div class="c" style="left:61.00px;top:1255px">0.6</div>
<div class="c" style="left:102.00px;top:1255px">1.4</div>
<div class="c" style="left:146.00px;top:1255px">1.7</div>
<div class="c" style="left:190.50px;top:1255px">2.1</div>
<div class="c" style="left:234.00px;top:1255px">2.5</div>
<div class="c" style="left:280.00px;top:1255px">3.3</div>
<div class="c" style="left:326.00px;top:1255px">3.7</div>
<div class="c" style="left:379.50px;top:1255px">4.1</div>
<div class="c" style="left:433.50px;top:1255px">4.6</div>
<div class="c" style="left:485.50px;top:1255px">4.9</div>
<div class="c" style="left:546.00px;top:1255px">5.5</div>
<div class="c" style="left:740.00px;top:1255px">5.5</div>
<div class="c" style="left:834.50px;top:1255px">12.2%</div>
<div class="c" style="left:17.00px;top:1277px">0.3</div>
<div class="c" style="left:61.00px;top:1277px">0.6</div>
<div class="c" style="left:102.00px;top:1277px">1.1</div>
<div class="c" style="left:146.00px;top:1277px">1.5</div>
<div class="c" style="left:190.50px;top:1277px">1.7</div>
<div class="c" style="left:234.00px;top:1277px">1.9</div>
<div class="c" style="left:280.00px;top:1277px">2.7</div>
<div class="c" style="left:326.00px;top:1277px">3.1</div>
<div class="c" style="left:379.50px;top:1277px">3.5</div>
<div class="c" style="left:433.50px;top:1277px">4.1</div>
<div class="c" style="left:485.50px;top:1277px">4.4</div>
<div class="c" style="left:546.00px;top:1277px">4.9</div>
<div class="c" style="left:740.00px;top:1277px">4.9</div>
<div class="c" style="left:834.50px;top:1277px">11.4%</div>
<div class="c" style="left:17.00px;top:1298px">0.4</div>
<div class="c" style="left:61.00px;top:1298px">0.5</div>
<div class="c" style="left:102.00px;top:1298px">1.3</div>
<div class="c" style="left:146.00px;top:1298px">1.5</div>
<div class="c" style="left:190.50px;top:1298px">1.7</div>
<div class="c" style="left:234.00px;top:1298px">1.9</div>
<div class="c" style="left:280.00px;top:1298px">2.7</div>
<div class="c" style="left:326.00px;top:1298px">3.0</div>
<div class="c" style="left:379.50px;top:1298px">3.3</div>
<div class="c" style="left:433.50px;top:1298px">3.8</div>
<div class="c" style="left:485.50px;top:1298px">4.0</div>
<div class="c" style="left:546.00px;top:1298px">4.4</div>
<div class="c" style="left:740.00px;top:1298px">4.4</div>
<div class="c" style="left:834.50px;top:1298px">-26.7%</div>
<div class="c" style="left:17.00px;top:1319px">0.5</div>
<div class="c" style="left:61.00px;top:1319px">1.0</div>
<div class="c" style="left:102.00px;top:1319px">1.9</div>
<div class="c" style="left:146.00px;top:1319px">2.2</div>
<div class="c" style="left:190.50px;top:1319px">2.4</div>
<div class="c" style="left:234.00px;top:1319px">2.5</div>
<div class="c" style="left:280.00px;top:1319px">3.2</div>
<div class="c" style="left:326.00px;top:1319px">4.0</div>
<div class="c" style="left:379.50px;top:1319px">4.2</div>
<div class="c" style="left:433.50px;top:1319px">4.9</div>
<div class="c" style="left:485.50px;top:1319px">5.1</div>
<div class="c" style="left:546.00px;top:1319px">6.0</div>
<div class="c" style="left:740.00px;top:1319px">6.0</div>
<div class="c" style="left:-42.20px;top:1362px">4 Yr Ave</div>
<div class="l" style="left:35.87px;top:1383px">Ave.</div>
<div class="c" style="left:17.00px;top:1362px">0.5</div>
<div class="c" style="left:61.00px;top:1362px">0.9</div>
<div class="c" style="left:102.00px;top:1362px">1.6</div>
<div class="c" style="left:146.00px;top:1362px">1.9</div>
<div class="c" style="left:190.50px;top:1362px">2.2</div>
<div class="c" style="left:234.00px;top:1362px">2.5</div>
<div class="c" style="left:280.00px;top:1362px">3.3</div>
<div class="c" style="left:326.00px;top:1362px">3.8</div>
<div class="c" style="left:379.50px;top:1362px">4.2</div>
<div class="c" style="left:433.50px;top:1362px">4.7</div>
<div class="c" style="left:485.50px;top:1362px">5.1</div>
<div class="c" style="left:546.00px;top:1362px">5.6</div>
<div class="c" style="left:740.00px;top:1362px">5.6</div>
<div class="c" style="left:834.50px;top:1362px">4.7%</div>
<div class="c" style="left:17.00px;top:1383px">0.4</div>
<div class="c" style="left:61.00px;top:1383px">0.8</div>
<div class="c" style="left:102.00px;top:1383px">1.5</div>
<div class="c" style="left:146.00px;top:1383px">1.8</div>
<div class="c" style="left:190.50px;top:1383px">2.1</div>
<div class="c" style="left:234.00px;top:1383px">2.3</div>
<div class="c" style="left:280.00px;top:1383px">3.1</div>
<div class="c" style="left:326.00px;top:1383px">3.6</div>
<div class="c" style="left:379.50px;top:1383px">3.9</div>
<div class="c" style="left:433.50px;top:1383px">4.5</div>
<div class="c" style="left:485.50px;top:1383px">4.8</div>
<div class="c" style="left:546.00px;top:1383px">5.3</div>
<div class="c" style="left:740.00px;top:1383px">5.3</div>
<div class="c" style="left:834.50px;top:1383px">-0.2%</div>
<div class="ln" style="left:510px;top:848px;width:169px;height:1px"></div>
<div class="ln" style="left:93px;top:869px;width:418px;height:1px"></div>
<div class="ln" style="left:93px;top:1124px;width:586px;height:1px"></div>
<div class="ln" style="left:93px;top:869px;width:1px;height:256px"></div>
<div class="ln" style="left:510px;top:848px;width:1px;height:277px"></div>
<div class="ln" style="left:678px;top:848px;width:1px;height:277px"></div>
</body></html>
